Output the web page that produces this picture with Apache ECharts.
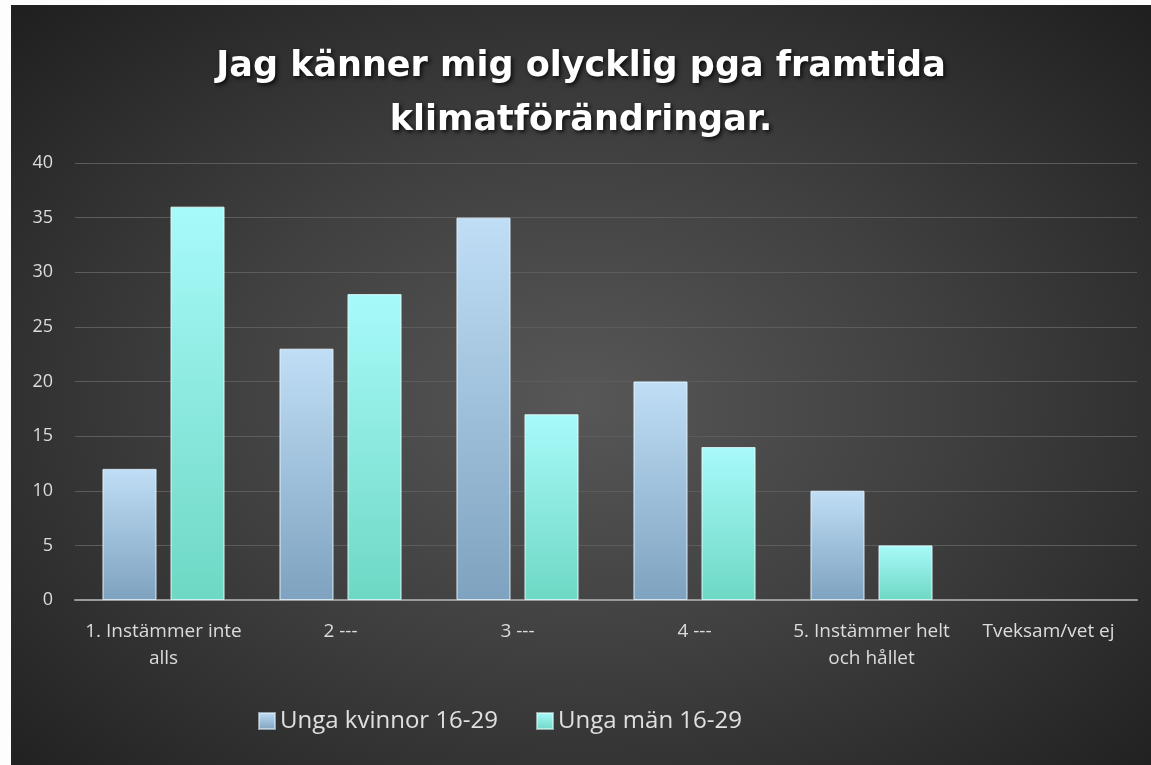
<!DOCTYPE html>
<html style="height:100%;width:100%;">
<head>
  <meta charset="utf-8">
  <title>Jag känner mig olycklig</title>
  <script src="https://cdn.jsdelivr.net/npm/echarts@6/dist/echarts.min.js"></script>
</head>
<body style="margin:0px;height:100%;width:100%;background:#fdfdfd;">
  <div id="main" style="position:absolute;left:11px;top:5px;width:1140px;height:760px;
    background:radial-gradient(ellipse farthest-corner at 50% 52%, #575757 0%, #404040 45%, #1f1f1f 100%);"></div>
  <script type="text/javascript">
    // kategorier och värden
    var categories = ['1. Instämmer inte\nalls', '2 ---', '3 ---', '4 ---', '5. Instämmer helt\noch hållet', 'Tveksam/vet ej'];
    var kvinnor = [12, 23, 35, 20, 10, 0];
    var man = [36, 28, 17, 14, 5, 0];
    var yTicks = [0, 5, 10, 15, 20, 25, 30, 35, 40];

    var myChart = echarts.init(document.getElementById('main'));

    function barColor(top, bottom) {
      return new echarts.graphic.LinearGradient(0, 0, 0, 1, [
        { offset: 0, color: top },
        { offset: 1, color: bottom }
      ]);
    }

    // nollvärden ska inte synas alls (ingen kantlinje)
    function items(values) {
      return values.map(function (v) {
        return v ? v : { value: v, itemStyle: { borderWidth: 0 } };
      });
    }

    var option = {
      backgroundColor: 'transparent',
      title: {
        text: 'Jag känner mig olycklig pga framtida\nklimatförändringar.',
        left: 'center',
        top: 30,
        textStyle: {
          color: '#ffffff',
          fontFamily: 'DejaVu Sans',
          fontWeight: 'bold',
          fontSize: 35,
          lineHeight: 54,
          textShadowColor: 'rgba(0,0,0,0.8)',
          textShadowBlur: 4,
          textShadowOffsetX: 2,
          textShadowOffsetY: 2
        }
      },
      legend: {
        top: 699,
        left: 242,
        itemWidth: 16,
        itemHeight: 16,
        itemGap: 38,
        icon: 'rect',
        textStyle: { color: '#e0e0e0', fontSize: 24, fontFamily: 'Open Sans' },
        data: ['Unga kvinnor 16-29', 'Unga män 16-29']
      },
      grid: {
        left: 64,
        right: 14,
        top: 158,
        bottom: 165,
        containLabel: false
      },
      xAxis: {
        type: 'category',
        data: categories,
        axisLine: { lineStyle: { color: '#9a9a9a', width: 2 } },
        axisTick: { show: false },
        axisLabel: {
          color: '#dcdcdc',
          fontSize: 19,
          fontFamily: 'Open Sans',
          lineHeight: 27,
          margin: 18,
          interval: 0
        }
      },
      yAxis: {
        type: 'value',
        min: yTicks[0],
        max: yTicks[yTicks.length - 1],
        interval: 5,
        axisLine: { show: false },
        axisTick: { show: false },
        axisLabel: { color: '#dcdcdc', fontSize: 18, fontFamily: 'Open Sans', margin: 22 },
        splitLine: { lineStyle: { color: '#5c5c5c', width: 1 } }
      },
      series: [
        {
          name: 'Unga kvinnor 16-29',
          type: 'bar',
          data: items(kvinnor),
          barWidth: '30.5%',
          barGap: '26%',
          itemStyle: {
            color: barColor('#c0def6', '#7ea2bf'),
            borderColor: 'rgba(230,245,255,0.55)',
            borderWidth: 1
          }
        },
        {
          name: 'Unga män 16-29',
          type: 'bar',
          data: items(man),
          barWidth: '30.5%',
          itemStyle: {
            color: barColor('#a8fafa', '#6ed8c4'),
            borderColor: 'rgba(225,255,255,0.55)',
            borderWidth: 1
          }
        }
      ]
    };

    myChart.setOption(option);
  </script>
</body>
</html>
